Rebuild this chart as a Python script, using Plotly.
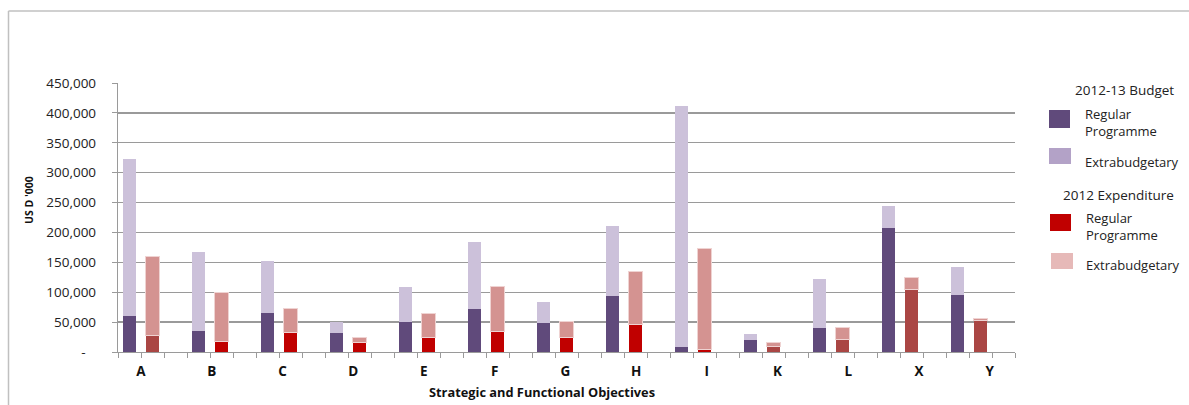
import plotly.graph_objects as go

# ---- data (USD '000) ----
categories = ["A", "B", "C", "D", "E", "F", "G", "H", "I", "K", "L", "X", "Y"]
budget_regular = [61000, 35700, 65800, 32300, 50700, 71400, 48000, 94200, 7800, 20600, 39600, 208000, 95900]
budget_total = [323400, 167800, 152800, 50700, 109300, 184600, 84200, 211300, 412100, 30700, 122700, 243700, 142700]
exp_regular = [28000, 17300, 31800, 15600, 24000, 33500, 24000, 45700, 4500, 8900, 21200, 104800, 53000]
exp_total = [160000, 99300, 73600, 24000, 65200, 110400, 50700, 134400, 172900, 16700, 41300, 124900, 55800]
y_ticks = [0, 50000, 100000, 150000, 200000, 250000, 300000, 350000, 400000, 450000]

budget_extra = [t - r for t, r in zip(budget_total, budget_regular)]
exp_extra = [t - r for t, r in zip(exp_total, exp_regular)]

# ---- styling ----
FONT = "Open Sans"
C_BREG = "#604A7B"
C_BEXT = "#CCC1DA"
C_EREG = "#C00000"
C_EREG_DARK = "#AA4644"
C_EEXT = "#D49391"
dark_cats = {"A", "K", "L", "X", "Y"}
exp_reg_colors = [C_EREG_DARK if c in dark_cats else C_EREG for c in categories]

n = len(categories)
x_budget = [3 * i for i in range(n)]
x_exp = [3 * i + 1 for i in range(n)]
BW = 0.58

fig = go.Figure()
fig.add_bar(x=x_budget, y=budget_regular, width=BW, marker=dict(color=C_BREG, line=dict(width=0)), name="Budget Regular")
fig.add_bar(x=x_budget, y=budget_extra, width=BW, marker=dict(color=C_BEXT, line=dict(width=0)), name="Budget Extra")
fig.add_bar(x=x_exp, y=exp_regular, width=BW, marker=dict(color=exp_reg_colors, line=dict(width=0)), name="Exp Regular")
fig.add_bar(x=x_exp, y=exp_extra, width=BW, marker=dict(color=C_EEXT, line=dict(color="#EFD3D2", width=1)), name="Exp Extra")

W, H = 1189, 405
L, R, T, B = 118, 1015, 83, 352


def px2x(px):
    return (px - L) / (R - L)


def px2y(py):
    return (B - py) / (B - T)


label_pos = [3 * i + 0.5 + 0.075 * i for i in range(n)]

fig.update_layout(
    width=W, height=H,
    margin=dict(l=L, r=W - R, t=T, b=H - B, pad=0),
    barmode="stack",
    bargap=0,
    showlegend=False,
    plot_bgcolor="white",
    paper_bgcolor="white",
    font=dict(family=FONT, size=12, color="#222"),
    xaxis=dict(
        range=[-0.5, 3 * n - 0.5],
        tickmode="array",
        tickvals=label_pos,
        ticktext=categories,
        ticks="",
        tickfont=dict(family=FONT, size=13.5, color="#111", weight="bold"),
        showgrid=False,
        showline=True,
        linecolor="#9a9a9a",
        linewidth=1.2,
        zeroline=False,
        ticklabelstandoff=7,
        minor=dict(tickmode="linear", tick0=-0.5, dtick=1, ticks="outside", ticklen=5,
                   tickcolor="#9a9a9a", tickwidth=1, showgrid=False),
        fixedrange=True,
    ),
    yaxis=dict(
        range=[0, 450000],
        tickmode="array",
        tickvals=y_ticks,
        ticktext=["-\u00a0\u00a0\u00a0" if v == 0 else f"{v:,}" for v in y_ticks],
        ticks="outside",
        ticklen=5,
        tickcolor="#9a9a9a",
        tickfont=dict(family=FONT, size=13.5, color="#222"),
        showgrid=True,
        gridcolor="#9a9a9a",
        gridwidth=1.3,
        showline=True,
        linecolor="#9a9a9a",
        linewidth=1.2,
        zeroline=False,
        ticklabelstandoff=13,
        fixedrange=True,
    ),
)

annotations = [
    dict(x=px2x(29), y=px2y(200), xref="paper", yref="paper", text="<b>US D '000</b>",
         textangle=-90, showarrow=False, font=dict(family=FONT, size=10.5, color="#111"),
         xanchor="center", yanchor="middle"),
    dict(x=px2x(542), y=px2y(392), xref="paper", yref="paper",
         text="<b>Strategic and Functional Objectives</b>", showarrow=False,
         font=dict(family=FONT, size=12.8, color="#111"), xanchor="center", yanchor="middle"),
]

# custom legend
shapes = []
legend_titles = [("2012-13 Budget", 1124, 90), ("2012 Expenditure", 1118, 195)]
for txt, cx, cy in legend_titles:
    annotations.append(dict(x=px2x(cx), y=px2y(cy), xref="paper", yref="paper", text=txt,
                            showarrow=False, font=dict(family=FONT, size=13.5, color="#222"),
                            xanchor="center", yanchor="middle"))

legend_items = [
    ("#604A7B", "Regular<br>Programme", 110, 128, 1049, 1070, 122, 1083),
    ("#B3A2C7", "Extrabudgetary", 148, 164, 1049, 1071, 162, 1083),
    ("#C00000", "Regular<br>Programme", 214, 231, 1050, 1071, 226, 1084),
    ("#E6B9B8", "Extrabudgetary", 253, 269, 1051, 1073, 265, 1084),
]
for col, txt, y0, y1, x0, x1, ty, tx in legend_items:
    shapes.append(dict(type="rect", xref="paper", yref="paper",
                       x0=px2x(x0), x1=px2x(x1), y0=px2y(y1), y1=px2y(y0),
                       fillcolor=col, line=dict(width=0)))
    annotations.append(dict(x=px2x(tx), y=px2y(ty), xref="paper", yref="paper", text=txt,
                            showarrow=False, align="left",
                            font=dict(family=FONT, size=13, color="#222"),
                            xanchor="left", yanchor="middle"))

# outer frame (top & left edges visible)
shapes.append(dict(type="line", xref="paper", yref="paper",
                   x0=px2x(8.5), x1=px2x(1195), y0=px2y(11), y1=px2y(11),
                   line=dict(color="#C0C0C0", width=1.5)))
shapes.append(dict(type="line", xref="paper", yref="paper",
                   x0=px2x(8.5), x1=px2x(8.5), y0=px2y(11), y1=px2y(410),
                   line=dict(color="#C0C0C0", width=1.5)))

fig.update_layout(annotations=annotations, shapes=shapes)

fig.write_html("out.html",
               config={"displayModeBar": False, "staticPlot": True},
               post_script="document.body.style.margin='0';document.body.style.padding='0';")
